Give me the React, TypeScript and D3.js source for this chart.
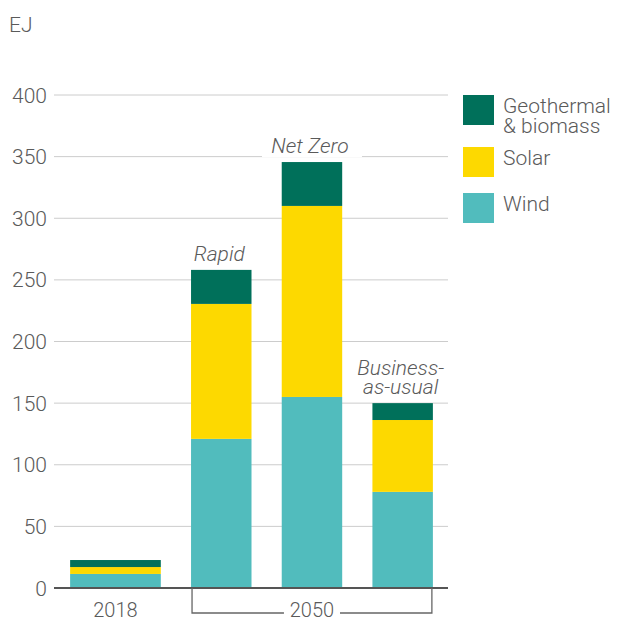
import * as d3 from "d3";

// categories (bars, left to right)
const categories = ["2018", "Rapid", "Net Zero", "Business-as-usual"];
// label shown above each bar (lines), 2018 has none
const barLabels = [[], ["Rapid"], ["Net Zero"], ["Business-", "as-usual"]];

// series values, EJ
const wind = [11.4, 121, 155, 78];
const solar = [5.6, 109.5, 155, 58.3];
const geoBiomass = [5.7, 27.6, 35.6, 13.7];

const seriesKeys = ["wind", "solar", "geo"];
const legendKeys = ["geo", "solar", "wind"];
const legendLabels = [["Geothermal", "& biomass"], ["Solar"], ["Wind"]];
const colors: Record<string, string> = {
  wind: "#51BCBD",
  solar: "#FDD900",
  geo: "#00705A",
};

const yTicks = [0, 50, 100, 150, 200, 250, 300, 350, 400];
const groupLabel = "2050";
const unitLabel = "EJ";

// layout, in px
const width = 618;
const height = 622;
const plotLeft = 55;
const plotRight = 448;
const plotTop = 95;
const plotBottom = 588;

// bar widths in "slots", with 1 slot gaps and half a slot at each edge
const barSlots = [3, 2, 2, 2];

const textColor = "#5a5a5a";
const font = "Roboto, 'Liberation Sans', sans-serif";
const fs = 21;
const fw = 300;

export default function App() {
  const rows = categories.map((c, i) => ({
    cat: c,
    wind: wind[i],
    solar: solar[i],
    geo: geoBiomass[i],
  }));
  const stacked = d3.stack<any>().keys(seriesKeys)(rows);

  const totalSlots = d3.sum(barSlots) + barSlots.length;
  const x = d3.scaleLinear([0, totalSlots], [plotLeft, plotRight]);
  const starts = barSlots.map(
    (_, i) => 0.5 + d3.sum(barSlots.slice(0, i)) + i,
  );
  const barX = (i: number) => x(starts[i]);
  const barW = (i: number) => x(barSlots[i]) - x(0);
  const barC = (i: number) => barX(i) + barW(i) / 2;

  const y = d3.scaleLinear([0, 400], [plotBottom, plotTop]);
  const totals = rows.map((r) => r.wind + r.solar + r.geo);

  // bracket under the 2050 bars
  const bx0 = barX(1) + 1;
  const bx1 = barX(3) + barW(3) - 1;
  const by = plotBottom + 25;
  const bMid = (bx0 + bx1) / 2;
  const gapHalf = 28;

  return (
    <svg
      width={width}
      height={height}
      style={{ position: "absolute", left: 0, top: 0 }}
      fontFamily={font}
      fontWeight={fw}
    >
      <rect width={width} height={height} fill="#fff" />
      <text x={9} y={32} fontSize={fs} fill={textColor}>
        {unitLabel}
      </text>

      {/* grid + y labels */}
      {yTicks.map((t) => (
        <g key={t}>
          {t > 0 && (
            <line
              x1={plotLeft - 1}
              x2={plotRight}
              y1={y(t)}
              y2={y(t)}
              stroke="#cccccc"
              strokeWidth={1}
            />
          )}
          <text
            x={47}
            y={y(t)}
            dy="0.36em"
            textAnchor="end"
            fontSize={fs}
            fill={textColor}
          >
            {t}
          </text>
        </g>
      ))}

      {/* bars */}
      {stacked.map((s) => (
        <g key={s.key} fill={colors[s.key]}>
          {s.map((d, i) => (
            <rect
              key={i}
              x={barX(i)}
              width={barW(i)}
              y={y(d[1])}
              height={y(d[0]) - y(d[1])}
            />
          ))}
        </g>
      ))}

      {/* scenario labels */}
      {barLabels.map((lines, i) => {
        if (!lines.length) return null;
        const top = y(totals[i]) - 9;
        const lh = 19;
        const n = lines.length;
        const boxW = lines[0].length * 11 + 12;
        const cx = barC(i) - 2;
        return (
          <g key={i}>
            {n === 1 && (
              <rect
                x={barC(i) - boxW / 2}
                y={top - 20}
                width={boxW}
                height={24}
                fill="#fff"
              />
            )}
            <text
              x={cx}
              y={top - (n - 1) * lh}
              textAnchor="middle"
              fontSize={fs}
              fontStyle="italic"
              fill={textColor}
            >
              {lines.map((l, j) => (
                <tspan key={j} x={cx} dy={j === 0 ? 0 : lh}>
                  {l}
                </tspan>
              ))}
            </text>
          </g>
        );
      })}

      {/* baseline */}
      <line
        x1={plotLeft - 1}
        x2={plotRight}
        y1={plotBottom}
        y2={plotBottom}
        stroke="#555"
        strokeWidth={2}
      />

      {/* x labels */}
      <text
        x={barC(0)}
        y={plotBottom + 29}
        textAnchor="middle"
        fontSize={20}
        fill={textColor}
      >
        {categories[0]}
      </text>
      <path
        d={`M${bMid - gapHalf},${by}H${bx0}V${plotBottom}M${bMid + gapHalf},${by}H${bx1}V${plotBottom}`}
        fill="none"
        stroke="#666"
        strokeWidth={1.3}
      />
      <text
        x={bMid}
        y={plotBottom + 29}
        textAnchor="middle"
        fontSize={20}
        fill={textColor}
      >
        {groupLabel}
      </text>

      {/* legend */}
      {legendLabels.map((lines, i) => {
        const key = legendKeys[i];
        const ly = [95, 147, 193][i];
        return (
          <g key={key}>
            <rect x={463} y={ly} width={31} height={30} fill={colors[key]} />
            <text x={503} y={ly + 18} fontSize={fs} fill={textColor}>
              {lines.map((l, j) => (
                <tspan key={j} x={503} dy={j === 0 ? 0 : 20}>
                  {l}
                </tspan>
              ))}
            </text>
          </g>
        );
      })}
    </svg>
  );
}
